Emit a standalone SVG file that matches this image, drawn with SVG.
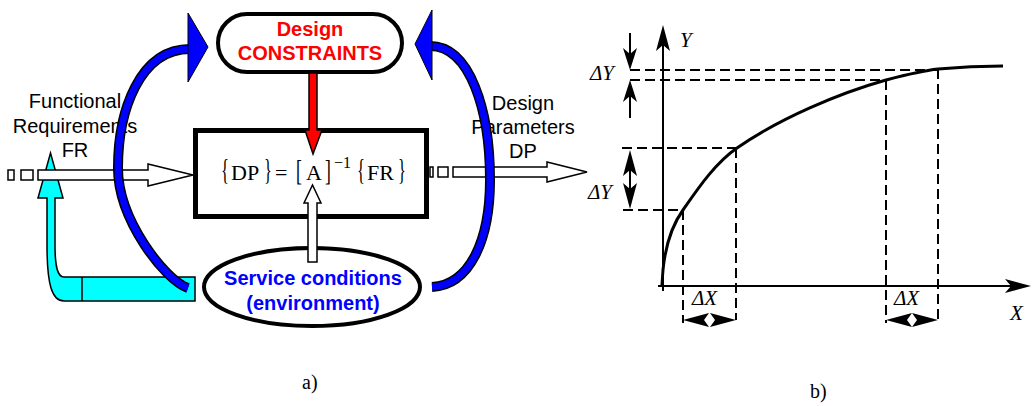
<svg xmlns="http://www.w3.org/2000/svg" width="1032" height="406" viewBox="0 0 1032 406">
<style>
.sans{font-family:"Liberation Sans",Arial,sans-serif}
.serif{font-family:"Liberation Serif","Times New Roman",serif}
.lbl{font-size:20px;fill:#000;text-anchor:middle}
.ital{font-style:italic;font-size:21px}
.dash{stroke:#000;stroke-width:2;stroke-dasharray:10 5;fill:none}
.wa{fill:#fff;stroke:#000;stroke-width:1.5}
.arcK{fill:none;stroke:#000;stroke-width:10}
.arcB{fill:none;stroke:#0000ff;stroke-width:7}
.blueHead{fill:#0000ff;stroke:#000;stroke-width:1}
</style>
<rect width="1032" height="406" fill="#fff"/>

<!-- Panel a) -->
<g id="feedback">
  <path d="M50.5 153 L63 198 L55 198 L55 245 C55 265 57 277 64 277 L195 277 L195 301 L64 301 C52 301 47 285 47 245 L47 198 L38 198 Z" fill="#00ffff" stroke="#000" stroke-width="1.5"/>
  <line x1="82" y1="277" x2="82" y2="301" stroke="#000" stroke-width="1.5"/>
</g>

<g id="fr-input">
  <rect x="8" y="170" width="6" height="10" class="wa"/>
  <rect x="21" y="170" width="12" height="10" class="wa"/>
  <path d="M38 170 L148 170 L148 164 L193 175 L148 186 L148 180 L38 180 Z" class="wa"/>
  <text class="sans lbl"><tspan x="75" y="108">Functional</tspan><tspan x="75" y="133">Requirements</tspan><tspan x="75" y="157">FR</tspan></text>
</g>

<g id="dp-output">
  <rect x="430" y="167" width="3" height="10" class="wa"/>
  <rect x="438" y="167" width="10" height="10" class="wa"/>
  <path d="M453 167 L547 167 L547 162 L587 172 L547 182 L547 177 L453 177 Z" class="wa"/>
  <text class="sans lbl"><tspan x="523" y="110">Design</tspan><tspan x="523" y="134">Parameters</tspan><tspan x="523" y="158">DP</tspan></text>
</g>

<g id="constraints">
  <rect x="218" y="14" width="184" height="58" rx="29" ry="29" fill="#fff" stroke="#000" stroke-width="4"/>
  <text class="sans" font-weight="bold" font-size="20" fill="#ff0000" text-anchor="middle"><tspan x="310" y="36">Design</tspan><tspan x="310" y="60">CONSTRAINTS</tspan></text>
</g>

<g id="process">
  <rect x="195.5" y="130.5" width="231" height="86" fill="#fff" stroke="#000" stroke-width="5"/>
  <g class="serif" fill="#000" font-size="22">
    <text transform="translate(221,179) scale(0.75,1.35)">{</text>
    <text x="231" y="180">DP</text>
    <text transform="translate(264,179) scale(0.75,1.35)">}</text>
    <text x="275" y="180">=</text>
    <text transform="translate(296,180) scale(0.8,1.35)">[</text>
    <text x="306" y="180">A</text>
    <text transform="translate(325,180) scale(0.8,1.35)">]</text>
    <text x="334" y="168" font-size="16">−1</text>
    <text transform="translate(357,179) scale(0.75,1.35)">{</text>
    <text x="367" y="180">FR</text>
    <text transform="translate(398,179) scale(0.75,1.35)">}</text>
  </g>
</g>

<g id="red-arrow">
  <path d="M309 73 L317 73 L317 130 L322 130 L313 154 L305 130 L309 130 Z" fill="#ff0000" stroke="#000" stroke-width="1.5"/>
</g>

<g id="service">
  <ellipse cx="312" cy="287" rx="108" ry="39" fill="#fff" stroke="#000" stroke-width="4"/>
  <text class="sans" font-weight="bold" font-size="20" fill="#0000ff" text-anchor="middle"><tspan x="313" y="285">Service conditions</tspan><tspan x="313" y="310">(environment)</tspan></text>
</g>

<g id="white-up-arrow">
  <path d="M308 262 L308 203 L304 203 L312.5 185 L321 203 L317 203 L317 262 Z" class="wa"/>
</g>

<g id="connectors">
  <path class="arcK" d="M190 49 C140 49 118 110 118 168 C118 220 165 280 188 288"/>
  <path class="arcB" d="M190 49 C140 49 118 110 118 168 C118 220 165 280 188 288"/>
  <polygon class="blueHead" points="188,13 208,47 188,82"/>
  <path class="arcK" d="M430 46 C470 46 490 110 490 180 C490 240 470 285 432 287"/>
  <path class="arcB" d="M430 46 C470 46 490 110 490 180 C490 240 470 285 432 287"/>
  <polygon class="blueHead" points="432,10 415,44 432,80"/>
</g>

<text x="302" y="389" class="serif" font-size="20">a)</text>

<!-- Panel b) -->
<g id="graph">
  <line x1="663" y1="40" x2="663" y2="291" stroke="#000" stroke-width="2"/>
  <polygon points="663,25 670,51 663,45 656,51" fill="#000"/>
  <line x1="658" y1="286" x2="1020" y2="286" stroke="#000" stroke-width="2"/>
  <polygon points="1031,286 1005,279 1011,286 1005,293" fill="#000"/>
  <text x="680" y="47" class="serif ital">Y</text>
  <text x="1010" y="320" class="serif ital">X</text>

  <path d="M662 285 C663 255 670 228 683 210 C697 190 715 163 737 148 C780 118 840 93 886 80 C905 75 920 71 938 69 C960 67 985 66 1003 66" fill="none" stroke="#000" stroke-width="3"/>

  <line class="dash" x1="630" y1="70" x2="938" y2="70"/>
  <line class="dash" x1="630" y1="80" x2="886" y2="80"/>
  <line class="dash" x1="622" y1="148" x2="737" y2="148"/>
  <line class="dash" x1="623" y1="210" x2="683" y2="210"/>
  <line class="dash" x1="683" y1="210" x2="683" y2="323"/>
  <line class="dash" x1="736" y1="148" x2="736" y2="320"/>
  <line class="dash" x1="886" y1="80" x2="886" y2="323"/>
  <line class="dash" x1="938" y1="69" x2="938" y2="321"/>

  <!-- delta Y top -->
  <line x1="630" y1="33" x2="630" y2="60" stroke="#000" stroke-width="2"/>
  <polygon points="630,70 623,48 630,54 637,48" fill="#000"/>
  <line x1="630" y1="92" x2="630" y2="118" stroke="#000" stroke-width="2"/>
  <polygon points="630,80 623,102 630,96 637,102" fill="#000"/>
  <text x="590" y="80" class="serif ital">ΔY</text>

  <!-- delta Y lower -->
  <line x1="630" y1="160" x2="630" y2="200" stroke="#000" stroke-width="2"/>
  <polygon points="630,150 623,176 630,170 637,176" fill="#000"/>
  <polygon points="630,209 623,183 630,189 637,183" fill="#000"/>
  <text x="588" y="199" class="serif ital">ΔY</text>

  <!-- delta X -->
  <polygon points="683,320 709,313 704,320 709,327" fill="#000"/>
  <polygon points="736,320 710,313 715,320 710,327" fill="#000"/>
  <text x="692" y="305" class="serif ital">ΔX</text>
  <polygon points="886,320 912,313 907,320 912,327" fill="#000"/>
  <polygon points="938,320 912,313 917,320 912,327" fill="#000"/>
  <text x="894" y="305" class="serif ital">ΔX</text>
</g>

<text x="810" y="398" class="serif" font-size="20">b)</text>
</svg>
